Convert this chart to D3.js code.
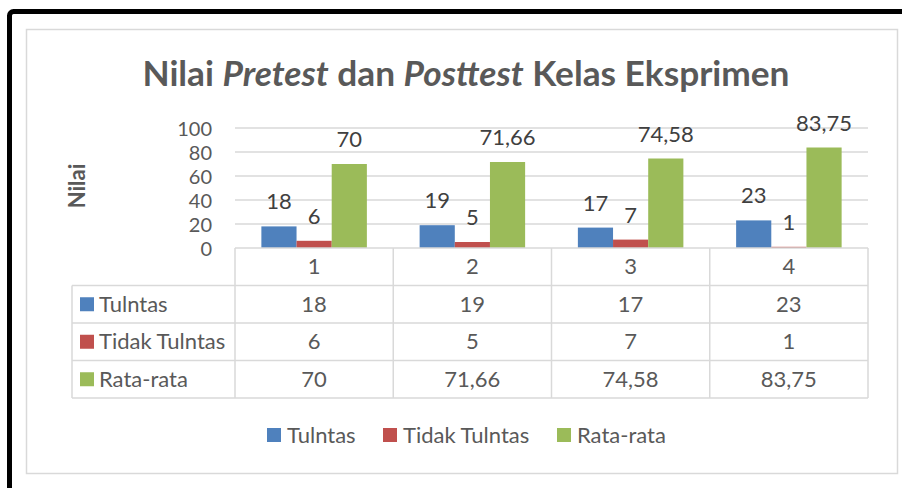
<!DOCTYPE html>
<html><head><meta charset="utf-8">
<script src="https://cdn.jsdelivr.net/npm/d3@7"></script>
<style>body{margin:0;background:#fff}svg{display:block}text{font-family:Lato,"Open Sans",sans-serif}</style>
</head><body>
<svg id="c" width="902" height="488"></svg>
<script>
const categories = ["1","2","3","4"];
const seriesNames = ["Tulntas","Tidak Tulntas","Rata-rata"];
const tulntas = [18,19,17,23];
const tidakTulntas = [6,5,7,1];
const rataRata = [70,71.66,74.58,83.75];
const yTicks = [0,20,40,60,80,100];
const colors = ["#4F81BD","#C0504D","#9BBB59"];

(function(){
const seriesValues = [tulntas, tidakTulntas, rataRata];
const fmt = v => String(v).replace(".", ",");
const FS = 22;

const svg = d3.select("#c");
svg.append("rect").attr("x",9.5).attr("y",11.5).attr("width",1000).attr("height",1000)
  .attr("rx",4).attr("fill","none").attr("stroke","#000").attr("stroke-width",5);
svg.append("rect").attr("x",26.5).attr("y",29.5).attr("width",871).attr("height",444)
  .attr("fill","#fff").attr("stroke","#d9d9d9").attr("stroke-width",1.5);

const title = svg.append("text").attr("x",466).attr("y",86).attr("text-anchor","middle")
  .attr("font-size",34).attr("font-weight","bold").attr("fill","#595959")
  .attr("textLength",647).attr("lengthAdjust","spacingAndGlyphs");
title.append("tspan").text("Nilai ");
title.append("tspan").attr("font-style","italic").text("Pretest");
title.append("tspan").text(" dan ");
title.append("tspan").attr("font-style","italic").text("Posttest");
title.append("tspan").text(" Kelas Eksprimen");

const pLeft = 235, pRight = 868, pTop = 128, pBottom = 248;
const x0 = d3.scaleBand().domain(categories).range([pLeft, pRight]);
const bw = x0.bandwidth();
const x1 = d3.scaleBand().domain(seriesNames).range([bw/6, bw*5/6]);
const y = d3.scaleLinear().domain([0,100]).range([pBottom, pTop]);

svg.append("g").selectAll("line").data(yTicks.filter(t=>t>0)).join("line")
  .attr("x1",pLeft).attr("x2",pRight).attr("y1",d=>y(d)).attr("y2",d=>y(d))
  .attr("stroke","#d9d9d9").attr("stroke-width",1.5);

const yAxis = svg.append("g").attr("transform",`translate(${pLeft-23},0)`)
  .call(d3.axisLeft(y).tickValues(yTicks).tickSize(0).tickPadding(0));
yAxis.select(".domain").remove();
yAxis.selectAll("text").attr("font-size",20).attr("fill","#595959").attr("font-family","Lato,sans-serif").attr("dy","0.35em");

svg.append("text").attr("transform","translate(85,186) rotate(-90)").attr("text-anchor","middle")
  .attr("font-size",22).attr("font-weight","bold").attr("fill","#595959").text("Nilai");

const rows = categories.map((c,i)=>({c, vals: seriesNames.map((s,j)=>({s, j, v: seriesValues[j][i]}))}));
const g = svg.append("g").selectAll("g").data(rows).join("g")
  .attr("transform",d=>`translate(${x0(d.c)},0)`);
g.selectAll("rect").data(d=>d.vals).join("rect")
  .attr("x",d=>x1(d.s)).attr("width",x1.bandwidth())
  .attr("y",d=>y(d.v)).attr("height",d=>pBottom-y(d.v))
  .attr("fill",d=>colors[d.j]);
g.selectAll("text").data(d=>d.vals).join("text")
  .attr("x",d=>x1(d.s)+x1.bandwidth()/2).attr("y",d=>y(d.v)-17)
  .attr("text-anchor","middle").attr("font-size",FS).attr("fill","#404040").text(d=>fmt(d.v));

const tableLeft = 72, rowH = 37.5;
const tableBottom = pBottom + 4*rowH;
const line = (ax,ay,bx,by) => svg.append("line").attr("x1",ax).attr("y1",ay).attr("x2",bx).attr("y2",by)
  .attr("stroke","#d9d9d9").attr("stroke-width",1.5);
line(pLeft,pBottom,pRight,pBottom);
[1,2,3,4].forEach(k=>line(tableLeft, pBottom+k*rowH, pRight, pBottom+k*rowH));
line(tableLeft, pBottom+rowH, tableLeft, tableBottom);
categories.forEach(c=>line(x0(c), pBottom, x0(c), tableBottom));
line(pRight, pBottom, pRight, tableBottom);

svg.append("g").selectAll("text").data(categories).join("text")
  .attr("x",c=>x0(c)+bw/2).attr("y",pBottom+rowH/2).attr("dy","0.35em")
  .attr("text-anchor","middle").attr("font-size",FS).attr("fill","#595959").text(c=>c);
seriesNames.forEach((s,j)=>{
  const cy = pBottom + (j+1)*rowH + rowH/2;
  svg.append("rect").attr("x",80).attr("y",cy-7).attr("width",14).attr("height",14).attr("fill",colors[j]);
  svg.append("text").attr("x",99).attr("y",cy).attr("dy","0.35em").attr("font-size",FS).attr("fill","#595959").text(s);
  svg.append("g").selectAll("text").data(categories).join("text")
    .attr("x",(c)=>x0(c)+bw/2).attr("y",cy).attr("dy","0.35em")
    .attr("text-anchor","middle").attr("font-size",FS).attr("fill","#595959")
    .text((c,i)=>fmt(seriesValues[j][i]));
});

const legendX = [267, 383, 557];
const lg = svg.append("g").selectAll("g").data(seriesNames).join("g")
  .attr("transform",(d,i)=>`translate(${legendX[i]},435)`);
lg.append("rect").attr("x",0).attr("y",-7).attr("width",14).attr("height",14).attr("fill",(d,i)=>colors[i]);
lg.append("text").attr("x",20).attr("y",0).attr("dy","0.35em").attr("font-size",FS).attr("fill","#595959").text(d=>d);
})();
</script>
</body></html>
